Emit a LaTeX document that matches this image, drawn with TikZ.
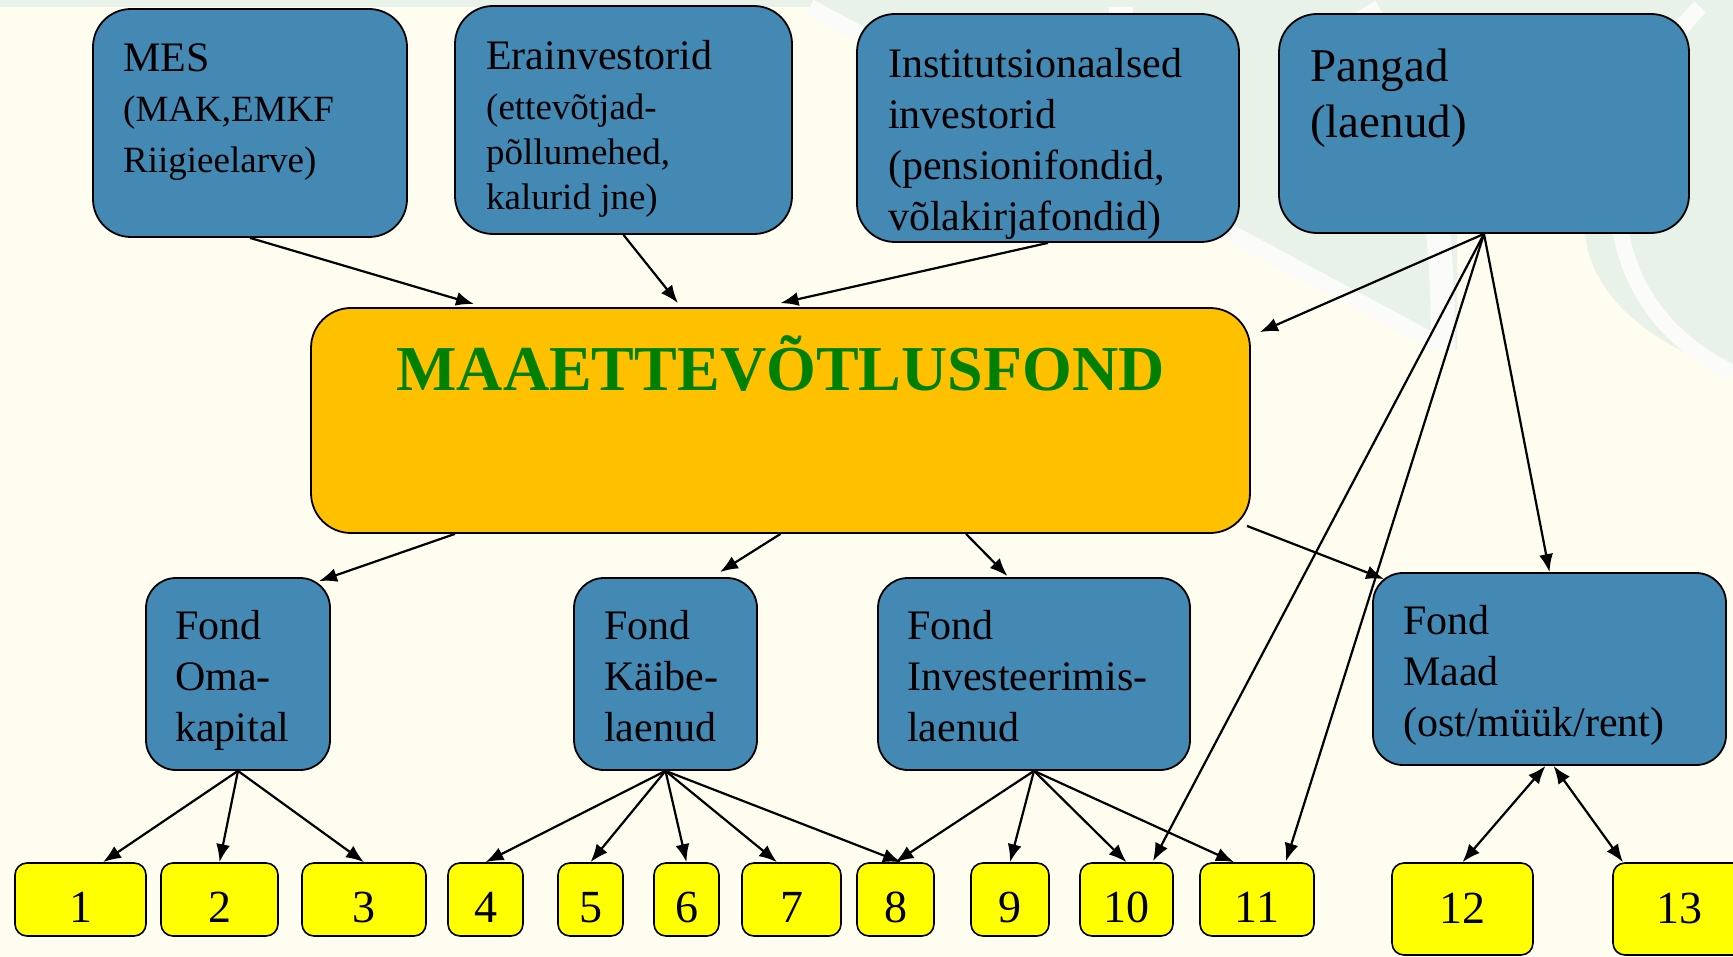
\documentclass[tikz,border=0pt]{standalone}
\usepackage{fontspec}
\setmainfont{Liberation Serif}
\usetikzlibrary{positioning, arrows.meta}
\definecolor{fundblue}{RGB}{67,137,180}
\definecolor{fundorange}{RGB}{255,192,0}
\definecolor{fundyellow}{RGB}{255,255,0}
\definecolor{fundgreen}{RGB}{0,128,0}
\definecolor{paper}{RGB}{255,253,240}
\definecolor{wmark}{RGB}{233,242,232}
\definecolor{wband}{RGB}{251,252,249}
\tikzset{
  % srcbox/.style={draw, fill=fundblue},
  srcbox/.style={draw, line width=1.8pt, fill=fundblue, rounded corners=38pt, inner sep=0pt},
  fundbox/.style={draw, line width=1.8pt, fill=fundblue, rounded corners=30pt, inner sep=0pt},
  numbox/.style={draw, line width=1.6pt, fill=fundyellow, rounded corners=12pt, inner sep=0pt,
    font=\fontsize{46}{46}\selectfont, text height=46.4pt, text depth=0pt, minimum height=73pt},
  boxtext/.style={anchor=north west, inner sep=0pt, align=left, font=\fontsize{42}{51}\selectfont},
  link/.style={-{Latex[length=18pt,width=14pt]}, line width=2.2pt},
  twoway/.style={{Latex[length=18pt,width=14pt]}-{Latex[length=18pt,width=14pt]}, line width=2.2pt}
}

\begin{document}
\begin{tikzpicture}[x=1pt, y=-1pt]
  \useasboundingbox (0,0) rectangle (1733,957);
  \clip (0,0) rectangle (1733,957);

  % background
  \fill[paper] (0,0) rectangle (1733,957);
  \fill[wmark] (0,0) rectangle (1733,7);
  \fill[wmark] (810,7) -- (1733,7) -- (1733,373) .. controls (1640,340) and (1590,290) .. (1585,233)
        -- (1457,233) -- (1457,350) -- (1440,345) -- cycle;
  \draw[wband, line width=16pt] (810,7) -- (1440,345);
  \draw[wband, line width=24pt] (1121,7) -- (1121,175);
  \draw[wband, line width=24pt] (1365,7) .. controls (1420,100) and (1443,180) .. (1443,350);
  \draw[wband, line width=16pt] (1700,7) .. controls (1590,120) and (1580,300) .. (1733,373);

  % sources
  \node[srcbox, minimum width=314pt, minimum height=228pt] (mes) at (250,123) {};
  \node[boxtext, font=\fontsize{37}{50.6}\selectfont] (mes-txt) at (123,43.2)
    {{\fontsize{42}{50.6}\selectfont MES}\\(MAK,EMKF\\Riigieelarve)};
  \node[srcbox, minimum width=337pt, minimum height=228pt] (erai) at (623.5,120) {};
  \node[boxtext, font=\fontsize{37}{45}\selectfont] (erai-txt) at (486,39.7)
    {{\fontsize{42}{45}\selectfont Erainvestorid}\\[5.7pt](ettevõtjad-\\põllumehed,\\kalurid jne)};
  \node[srcbox, minimum width=382pt, minimum height=228pt] (inst) at (1048,128) {};
  \node[boxtext] (inst-txt) at (888,48.1)
    {Institutsionaalsed\\investorid\\(pensionifondid,\\võlakirjafondid)};
  \node[srcbox, minimum width=410pt, minimum height=219pt] (pang) at (1484,123.5) {};
  \node[boxtext, font=\fontsize{47}{56}\selectfont] (pang-txt) at (1310,49) {Pangad\\(laenud)};

  % main fund
  \node[draw, line width=1.8pt, fill=fundorange, rounded corners=40pt,
        minimum width=939pt, minimum height=225pt] (main) at (780.5,420.5) {};
  \node[anchor=base, inner sep=0pt, text=fundgreen, font=\fontsize{64}{64}\selectfont\bfseries]
    (main-txt) at (780.5,391) {MAAETTEVÕTLUSFOND};

  % sub funds
  \node[fundbox, minimum width=184pt, minimum height=192pt] (oma) at (238,674) {};
  \node[boxtext] (oma-txt) at (175,609.7) {Fond\\Oma-\\kapital};
  \node[fundbox, minimum width=183pt, minimum height=192pt] (kaib) at (665.5,674) {};
  \node[boxtext] (kaib-txt) at (604,609.7) {Fond\\Käibe-\\laenud};
  \node[fundbox, minimum width=312pt, minimum height=192pt] (inv) at (1034,674) {};
  \node[boxtext] (inv-txt) at (907,609.7) {Fond\\Investeerimis-\\laenud};
  \node[fundbox, minimum width=353pt, minimum height=192pt] (maad) at (1549.5,669) {};
  \node[boxtext] (maad-txt) at (1403,604.7) {Fond\\Maad\\(ost/müük/rent)};

  % targets
  \foreach \n/\x/\w in {1/80.5/131, 2/219.5/117, 3/364/124, 4/485.5/75, 5/590.5/65, 6/686.5/65,
                        7/791.5/99, 8/895.5/77, 9/1010/78, 10/1126.5/93, 11/1257/114}
    \node[numbox, minimum width=\w pt] (n\n) at (\x,899.5) {\n};
  \node[numbox, minimum width=141pt, minimum height=92pt, text depth=17.8pt] (n12) at (1462.5,909) {12};
  \node[numbox, minimum width=132pt, minimum height=92pt, text depth=17.8pt] (n13) at (1679,909) {13};

  % money flows
  \draw[link] (mes.south) -- ([xshift=-306.5pt,yshift=3pt]main.north);
  \draw[link] (erai.south) -- ([xshift=-102.5pt,yshift=4pt]main.north);
  \draw[link] (inst.south) -- ([yshift=4pt]main.north);
  \draw[link] (pang.south) -- ([xshift=9pt,yshift=-25pt]main.north east);
  \draw[link] (pang.south) -- (maad.north);
  \draw[link] (pang.south) -- ([xshift=26.5pt,yshift=1pt]n10.north);
  \draw[link] (pang.south) -- ([xshift=29pt,yshift=1pt]n11.north);

  \draw[link] ([xshift=-325.5pt]main.south) -- ([xshift=81pt,yshift=-4pt]oma.north);
  \draw[link] (main.south) -- ([xshift=54.5pt,yshift=5pt]kaib.north);
  \draw[link] ([xshift=185.5pt]main.south) -- ([xshift=-26.5pt,yshift=1pt]inv.north);
  \draw[link] ([xshift=-4pt,yshift=8pt]main.south east) -- ([xshift=12pt,yshift=-7pt]maad.north west);

  \draw[link] (oma.south) -- ([xshift=22.5pt]n1.north);
  \draw[link] (oma.south) -- (n2.north);
  \draw[link] (oma.south) -- (n3.north);
  \foreach \k in {4,5,6}
    \draw[link] (kaib.south) -- (n\k.north);
  \draw[link] (kaib.south) -- ([xshift=-14.5pt]n7.north);
  \draw[link] (kaib.south) -- ([xshift=5.5pt]n8.north);
  \foreach \k in {8,9,10}
    \draw[link] (inv.south) -- (n\k.north);
  \draw[link] (inv.south) -- ([xshift=-23pt]n11.north);

  \draw[twoway] ([xshift=-4pt]maad.south) -- (n12.north);
  \draw[twoway] ([xshift=4pt]maad.south) -- ([xshift=-56pt]n13.north);
\end{tikzpicture}
\end{document}
